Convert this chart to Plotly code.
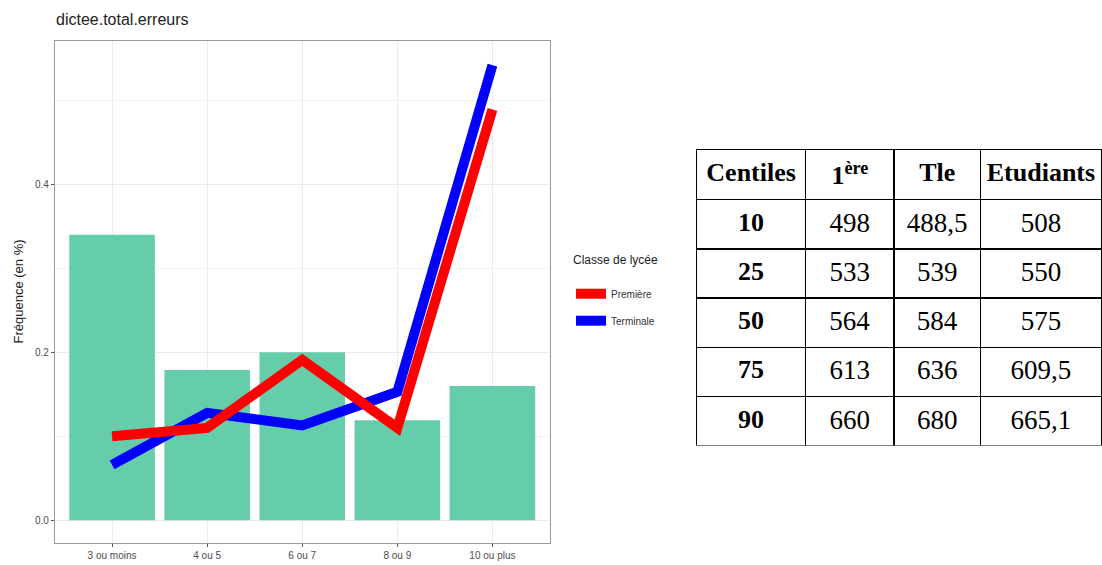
import plotly.graph_objects as go

# ---- data ----
categories = ["3 ou moins", "4 ou 5", "6 ou 7", "8 ou 9", "10 ou plus"]
bar_values = [0.34, 0.179, 0.20, 0.119, 0.16]
premiere = [0.100, 0.110, 0.191, 0.110, 0.489]
terminale = [0.066, 0.128, 0.113, 0.153, 0.542]

table_header = ["Centiles", "1<sup>ère</sup>", "Tle", "Etudiants"]
centiles = ["10", "25", "50", "75", "90"]
col_premiere = ["498", "533", "564", "613", "660"]
col_tle = ["488,5", "539", "584", "636", "680"]
col_etudiants = ["508", "550", "575", "609,5", "665,1"]

W, H = 1102, 565
SANS = "Liberation Sans, Arial, Helvetica, sans-serif"
SERIF = "Liberation Serif, Times New Roman, serif"


def bold(vals):
    return [f"<b>{v}</b>" for v in vals]


def plain(vals):
    return [f"<span>{v}</span>" for v in vals]


fig = go.Figure()

fig.add_trace(go.Bar(
    x=categories, y=bar_values, width=0.9,
    marker=dict(color="#66CDAA", line=dict(width=0)),
    showlegend=False, hoverinfo="skip",
))
fig.add_trace(go.Scatter(
    x=categories, y=terminale, mode="lines", name="Terminale",
    line=dict(color="#0000FF", width=10), legendrank=2, legendgroup="t",
))
fig.add_trace(go.Scatter(
    x=categories, y=premiere, mode="lines", name="Première",
    line=dict(color="#FF0000", width=10), legendrank=1, legendgroup="p",
))

fig.add_trace(go.Table(
    domain=dict(x=[696.5 / W, 1.0], y=[1 - 446 / H, 1 - 149.5 / H]),
    columnwidth=[110, 89, 87, 122],
    header=dict(
        values=bold(table_header),
        align="center", height=50,
        line=dict(color="#000000", width=1.5),
        fill=dict(color="white"),
        font=dict(family=SERIF, size=26, color="#000000"),
    ),
    cells=dict(
        values=[bold(centiles), plain(col_premiere), plain(col_tle), plain(col_etudiants)],
        align="center", height=49.3,
        line=dict(color="#000000", width=1.5),
        fill=dict(color="white"),
        font=dict(family=SERIF, size=[26, 27, 27, 27], color="#000000"),
    ),
))

fig.update_layout(
    width=W, height=H,
    margin=dict(l=0, r=0, t=0, b=0),
    paper_bgcolor="white", plot_bgcolor="white",
    font=dict(family=SANS, color="#333333"),
    bargap=0.1,
    title=dict(
        text="dictee.total.erreurs", x=56 / W, xanchor="left",
        y=1 - 19 / H, yanchor="middle",
        font=dict(family=SANS, size=16, color="#222222"),
    ),
    xaxis=dict(
        domain=[55 / W, 549.5 / W],
        range=[-0.6, 4.6],
        type="category",
        showgrid=True, gridcolor="#EBEBEB", gridwidth=1,
        showline=True, linecolor="#999999", linewidth=1.2, mirror=True,
        ticks="outside", ticklen=3, tickcolor="#555555", tickwidth=1,
        tickfont=dict(family=SANS, size=10, color="#4D4D4D"),
        zeroline=False, fixedrange=True,
    ),
    yaxis=dict(
        domain=[1 - 542.5 / H, 1 - 40.5 / H],
        range=[-0.0264, 0.5712],
        tickvals=[0.0, 0.2, 0.4], ticktext=["0.0", "0.2", "0.4"],
        showgrid=True, gridcolor="#EBEBEB", gridwidth=1,
        minor=dict(tickvals=[0.1, 0.3, 0.5], showgrid=True, gridcolor="#F2F2F2", gridwidth=0.7, ticks=""),
        showline=True, linecolor="#999999", linewidth=1.2, mirror=True,
        ticks="outside", ticklen=3, tickcolor="#555555", tickwidth=1,
        tickfont=dict(family=SANS, size=10, color="#4D4D4D"),
        title=dict(text="Fréquence (en %)", font=dict(family=SANS, size=13, color="#222222"), standoff=8),
        zeroline=False, fixedrange=True,
    ),
    legend=dict(
        x=571 / W, xanchor="left", y=1 - 248 / H, yanchor="top",
        title=dict(text="Classe de lycée<br>&nbsp;", font=dict(family=SANS, size=12, color="#222222")),
        font=dict(family=SANS, size=10, color="#333333"),
        traceorder="grouped", tracegroupgap=8,
        itemwidth=30,
        bgcolor="rgba(0,0,0,0)",
    ),
)

fig.write_html(
    "out.html",
    config={"displayModeBar": False},
    post_script="document.body.style.margin='0';document.body.style.overflow='hidden';",
)
